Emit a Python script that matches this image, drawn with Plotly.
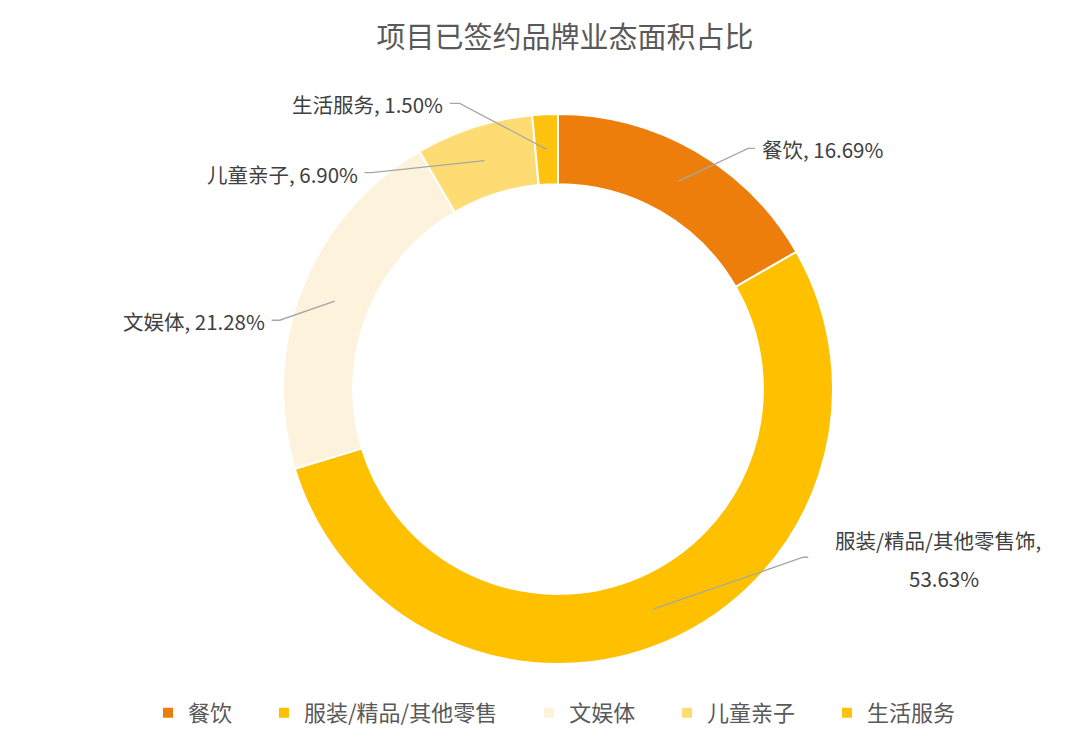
import math

import plotly.graph_objects as go

# data
categories = ["餐饮", "服装/精品/其他零售", "文娱体", "儿童亲子", "生活服务"]
label_names = ["餐饮", "服装/精品/其他零售饰", "文娱体", "儿童亲子", "生活服务"]
shares = [16.69, 53.63, 21.28, 6.90, 1.50]
colors = ["#EE7E0B", "#FFC000", "#FDF3DC", "#FFDC73", "#FFC20E"]

W, H = 1080, 748
CX, CY, R = 558, 389, 275
HOLE = 0.745
FONT = "Noto Sans CJK SC, Noto Sans, sans-serif"
PAD = "\u3000\u00a0"  # extra gap after legend entries

# label layout: elbow offset from ring point (px), stub length, side
label_layout = [
    (70, -33, 7, "left"),
    (150, -52, 5, "left"),
    (-55, 19, -8, "right"),
    (-113, 12, -7, "right"),
    (-87, -46, -10, "right"),
]


def px2paper(x, y):
    return x / W, 1 - y / H


fig = go.Figure(go.Pie(
    labels=[c + PAD for c in categories],
    values=shares,
    hole=HOLE,
    sort=False,
    direction="clockwise",
    rotation=0,
    marker=dict(colors=colors, line=dict(color="white", width=2)),
    textinfo="none",
    hovertemplate="%{label}: %{value:.2f}%<extra></extra>",
    domain=dict(x=[(CX - R) / W, (CX + R) / W], y=[1 - (CY + R) / H, 1 - (CY - R) / H]),
))

# leader lines and labels, positioned from slice mid angles
total = sum(shares)
cum = 0
mid_r = R * (1 + HOLE) / 2
shapes, annotations = [], []
lab_font = dict(family=FONT, size=20.5, color="#404040")
for name, val, (dx, dy, stub, side) in zip(label_names, shares, label_layout):
    ang = 2 * math.pi * (cum + val / 2) / total
    cum += val
    x0 = CX + mid_r * math.sin(ang)
    y0 = CY - mid_r * math.cos(ang)
    x1, y1 = x0 + dx, y0 + dy
    x2 = x1 + stub
    p0, p1, p2 = px2paper(x0, y0), px2paper(x1, y1), px2paper(x2, y1)
    shapes.append(dict(
        type="path", xref="paper", yref="paper",
        path=f"M {p0[0]},{p0[1]} L {p1[0]},{p1[1]} L {p2[0]},{p2[1]}",
        line=dict(color="#A6A6A6", width=1.3),
    ))
    if len(name) > 6:
        # long label wraps onto two lines, second line centred under the first
        t1 = px2paper(x2 + 25, y1 - 17)
        t2 = px2paper(x2 + 136, y1 + 21)
        annotations.append(dict(x=t1[0], y=t1[1], xref="paper", yref="paper",
                                text=f"{name},", showarrow=False, xanchor="left",
                                yanchor="middle", font=lab_font))
        annotations.append(dict(x=t2[0], y=t2[1], xref="paper", yref="paper",
                                text=f"{val:.2f}%", showarrow=False, xanchor="center",
                                yanchor="middle", font=lab_font))
    else:
        tx = px2paper(x2 + 5 if side == "left" else x2 - 5, y1 + 1)
        annotations.append(dict(
            x=tx[0], y=tx[1], xref="paper", yref="paper", text=f"{name}, {val:.2f}%",
            showarrow=False, xanchor=side, yanchor="middle", font=lab_font,
        ))

fig.update_layout(
    width=W, height=H,
    margin=dict(l=0, r=0, t=0, b=0),
    paper_bgcolor="white",
    title=dict(
        text="项目已签约品牌业态面积占比",
        x=565 / W, y=1 - 38 / H, xanchor="center", yanchor="middle",
        font=dict(family=FONT, size=29, color="#595959"),
    ),
    legend=dict(
        orientation="h", x=148 / W, y=1 - 713 / H, xanchor="left", yanchor="middle",
        font=dict(family=FONT, size=22, color="#595959"),
        itemwidth=30, traceorder="normal",
    ),
    shapes=shapes,
    annotations=annotations,
)

fig.write_html("out.html", config={"displayModeBar": False},
               post_script="document.body.style.margin='0px';")
